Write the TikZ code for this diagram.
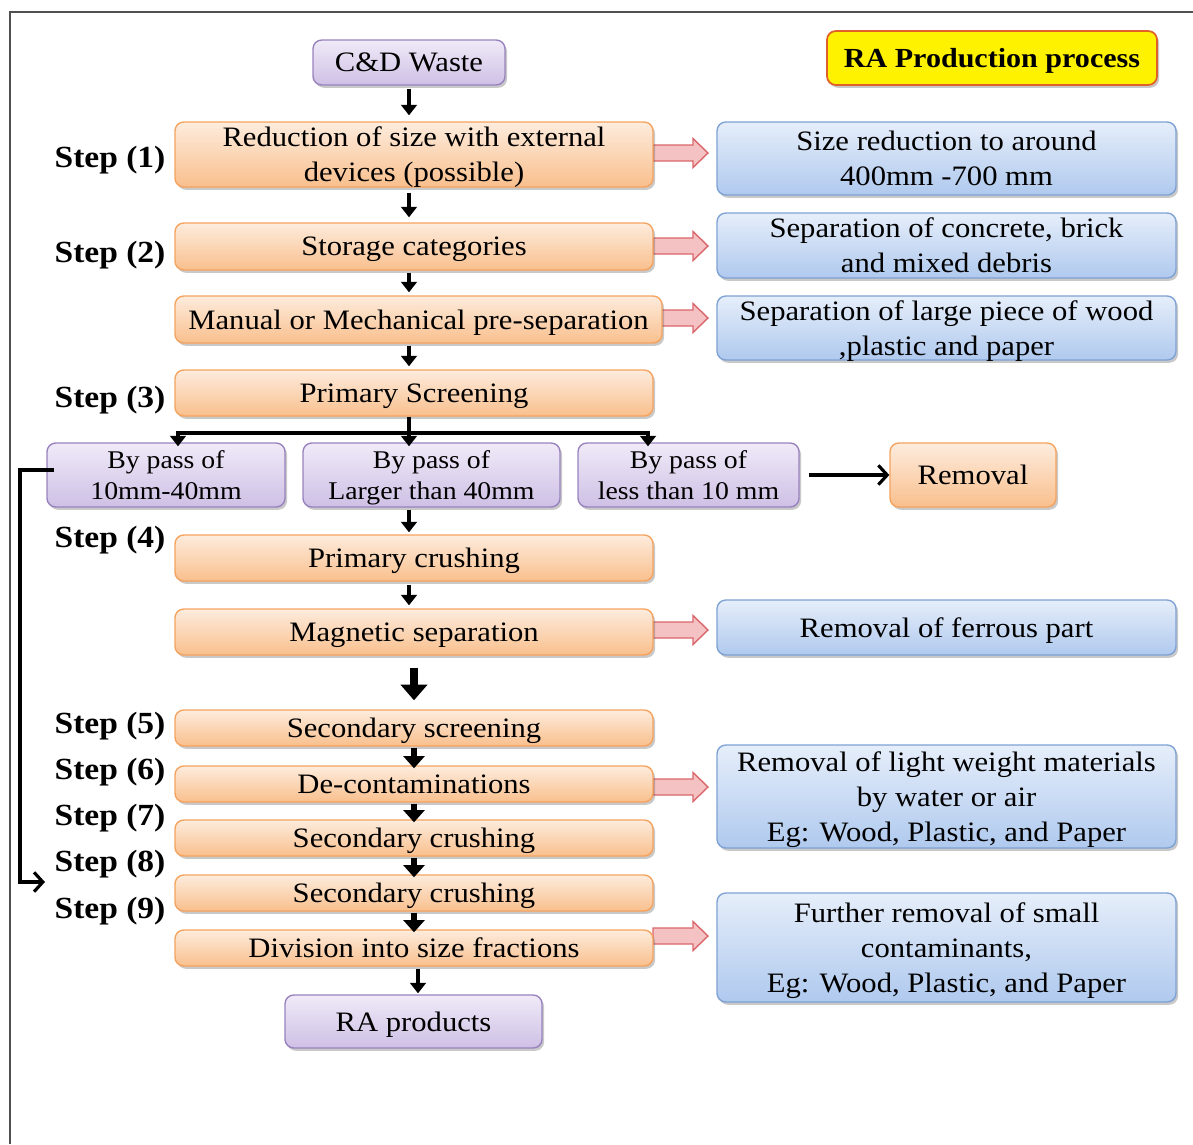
\documentclass[tikz,border=0pt]{standalone}
\usepackage{fontspec}
\setmainfont[FakeStretch=1.09]{Liberation Serif}
\usetikzlibrary{arrows.meta,shadows,calc}
\definecolor{orT}{HTML}{FDECDD}
\definecolor{orB}{HTML}{F9BF8D}
\definecolor{orD}{HTML}{F5A35E}
\definecolor{blT}{HTML}{E6EEFA}
\definecolor{blB}{HTML}{AFC9EE}
\definecolor{blD}{HTML}{7EA2D3}
\definecolor{puT}{HTML}{F0EAF8}
\definecolor{puB}{HTML}{CEC0E5}
\definecolor{puD}{HTML}{9882BE}
\definecolor{pkF}{HTML}{F5C2C3}
\definecolor{pkD}{HTML}{D9676B}
\definecolor{yeD}{HTML}{E0602A}
\definecolor{frameC}{HTML}{505050}
\newcommand\mybox[7]{\node[#2, minimum width={(#5-#3)*0.02cm}, minimum height={(#6-#4)*0.02cm}] (#1) at ({(#3+#5)/2},{(#4+#6)/2}) {#7};}
\newcommand\pinkarr[2]{\filldraw[pkarrow] (#2,{#1-8}) -- (693,{#1-8}) -- (693,{#1-14.5}) -- (708,#1) -- (693,{#1+14.5}) -- (693,{#1+8}) -- (#2,{#1+8}) -- cycle;}
\tikzset{
  x=0.02cm, y=-0.02cm,
  base/.style={rounded corners=5pt, inner sep=0pt, align=center, text depth=0pt, font=\fontsize{16}{20}\selectfont,
    drop shadow={shadow xshift=1.2pt, shadow yshift=-1.6pt, opacity=0.3, fill=black!70}},
  orbox/.style={base, draw=orD, line width=0.8pt, top color=orT, bottom color=orB},
  blbox/.style={base, draw=blD, line width=0.8pt, top color=blT, bottom color=blB},
  pubox/.style={base, draw=puD, line width=0.8pt, top color=puT, bottom color=puB},
  ylbox/.style={base, draw=yeD, line width=1pt, fill=yellow, font=\fontsize{15.7}{20}\selectfont\bfseries},
  steplbl/.style={font=\fontsize{17.5}{22}\selectfont\bfseries, inner sep=0pt},
  pkarrow/.style={fill=pkF, draw=pkD, line width=0.8pt},
  blk/.style={line width=2.4pt, -{Triangle[width=9pt,length=6pt]}},
  blkS/.style={line width=3pt, -{Triangle[width=12pt,length=7pt]}},
  blkB/.style={line width=4.5pt, -{Triangle[width=15pt,length=9pt]}},
  thinar/.style={line width=1.8pt, -{Straight Barb[length=5pt,width=11pt]}},
}
\begin{document}
\begin{tikzpicture}
\useasboundingbox (0,0) rectangle (1193,1144);
\draw[frameC, line width=1pt] (10,1144) -- (10,12) -- (1193,12);

% pink arrows
\pinkarr{153}{653}
\pinkarr{246}{653}
\pinkarr{318}{660}
\pinkarr{630}{653}
\pinkarr{787}{653}
\pinkarr{936}{653}

% boxes
\mybox{cd}{pubox}{313}{40}{505}{85}{C\&D Waste}
\mybox{title}{ylbox}{827}{31}{1157}{85}{RA Production process}
\mybox{s1}{orbox}{175}{122}{653}{187}{Reduction of size with external\\devices (possible)}
\mybox{b1}{blbox}{717}{122}{1176}{195}{Size reduction to around\\400mm -700 mm}
\mybox{s2}{orbox}{175}{223}{653}{270}{Storage categories}
\mybox{b2}{blbox}{717}{213}{1176}{278}{Separation of concrete, brick\\and mixed debris}
\mybox{mp}{orbox}{175}{296}{662}{343}{Manual or Mechanical pre-separation}
\mybox{b3}{blbox}{717}{296}{1176}{360}{Separation of large piece of wood\\,plastic and paper}
\mybox{ps}{orbox}{175}{370}{653}{416}{Primary Screening}
\mybox{bp1}{pubox, font=\fontsize{14.5}{17.5}\selectfont}{47}{443}{285}{507}{By pass of\\10mm-40mm}
\mybox{bp2}{pubox, font=\fontsize{14.5}{17.5}\selectfont}{303}{443}{560}{507}{By pass of\\Larger than 40mm}
\mybox{bp3}{pubox, font=\fontsize{14.5}{17.5}\selectfont}{578}{443}{799}{507}{By pass of\\less than 10 mm}
\mybox{rem}{orbox}{890}{443}{1056}{507}{Removal}
\mybox{pc}{orbox}{175}{535}{653}{581}{Primary crushing}
\mybox{ms}{orbox}{175}{609}{653}{655}{Magnetic separation}
\mybox{b4}{blbox}{717}{600}{1176}{655}{Removal of ferrous part}
\mybox{ss}{orbox}{175}{710}{653}{746}{Secondary screening}
\mybox{dc}{orbox}{175}{766}{653}{802}{De-contaminations}
\mybox{sc1}{orbox}{175}{820}{653}{856}{Secondary crushing}
\mybox{sc2}{orbox}{175}{875}{653}{911}{Secondary crushing}
\mybox{dv}{orbox}{175}{930}{653}{966}{Division into size fractions}
\mybox{b5}{blbox}{717}{745}{1176}{848}{Removal of light weight materials\\by water or air\\Eg: Wood, Plastic, and Paper}
\mybox{b6}{blbox}{717}{893}{1176}{1002}{Further removal of small\\contaminants,\\Eg: Wood, Plastic, and Paper}
\mybox{rap}{pubox}{285}{995}{542}{1048}{RA products}

% step labels
\node[steplbl] (l1) at (110,160) {Step (1)};
\node[steplbl] (l2) at (110,255) {Step (2)};
\node[steplbl] (l3) at (110,400) {Step (3)};
\node[steplbl] (l4) at (110,540) {Step (4)};
\node[steplbl] (l5) at (110,726) {Step (5)};
\node[steplbl] (l6) at (110,772) {Step (6)};
\node[steplbl] (l7) at (110,818) {Step (7)};
\node[steplbl] (l8) at (110,864) {Step (8)};
\node[steplbl] (l9) at (110,911) {Step (9)};

% columns
\coordinate (cx) at (409,0);
\coordinate (cy) at (414,0);
\coordinate (cz) at (418,0);

% black arrows
\draw[blk] ([yshift=-3*0.02cm]cd.south -| cx) -- ([yshift=6*0.02cm]s1.north -| cx);
\draw[blk] ([yshift=-5*0.02cm]s1.south -| cx) -- ([yshift=5*0.02cm]s2.north -| cx);
\draw[blk] ([yshift=-2*0.02cm]s2.south -| cx) -- ([yshift=3*0.02cm]mp.north -| cx);
\draw[blk] ([yshift=-2*0.02cm]mp.south -| cx) -- ([yshift=3*0.02cm]ps.north -| cx);

% branch
\coordinate (bl) at (178,433);
\coordinate (br) at (648,433);
\draw[line width=2.4pt] ([xshift=-1.2pt]bl) -- ([xshift=1.2pt]br);
\draw[blk] (ps.south -| cx) -- ([yshift=-4*0.02cm]bp2.north -| cx);
\draw[blk] (bl) -- ([yshift=-4*0.02cm]bp1.north -| bl);
\draw[blk] (br) -- ([yshift=-4*0.02cm]bp3.north -| br);

\draw[blk] ([yshift=-2*0.02cm]bp2.south -| cx) -- ([yshift=2*0.02cm]pc.north -| cx);
\draw[blk] ([yshift=-3*0.02cm]pc.south -| cx) -- ([yshift=3*0.02cm]ms.north -| cx);
\draw[blkB] ([yshift=-12*0.02cm]ms.south -| cy) -- ([yshift=9*0.02cm]ss.north -| cy);
\draw[blkS] ([yshift=-1*0.02cm]ss.south -| cy) -- ([yshift=-3*0.02cm]dc.north -| cy);
\draw[blkS] ([yshift=-1*0.02cm]dc.south -| cy) -- ([yshift=-3*0.02cm]sc1.north -| cy);
\draw[blkS] ([yshift=-1*0.02cm]sc1.south -| cy) -- ([yshift=-3*0.02cm]sc2.north -| cy);
\draw[blkS] ([yshift=-1*0.02cm]sc2.south -| cy) -- ([yshift=-3*0.02cm]dv.north -| cy);
\draw[blk] ([yshift=-2*0.02cm]dv.south -| cz) -- ([yshift=1*0.02cm]rap.north -| cz);

% removal arrow
\draw[thinar] ([xshift=9*0.02cm]bp3.east) -- (rem.west);

% bypass loop
\coordinate (lpA) at (20,470);
\coordinate (lpB) at (20,882);
\coordinate (lpC) at (45,882);
\draw[thinar] ([xshift=8*0.02cm,yshift=5*0.02cm]bp1.west) -- (lpA) -- (lpB) -- (lpC);
\end{tikzpicture}
\end{document}
